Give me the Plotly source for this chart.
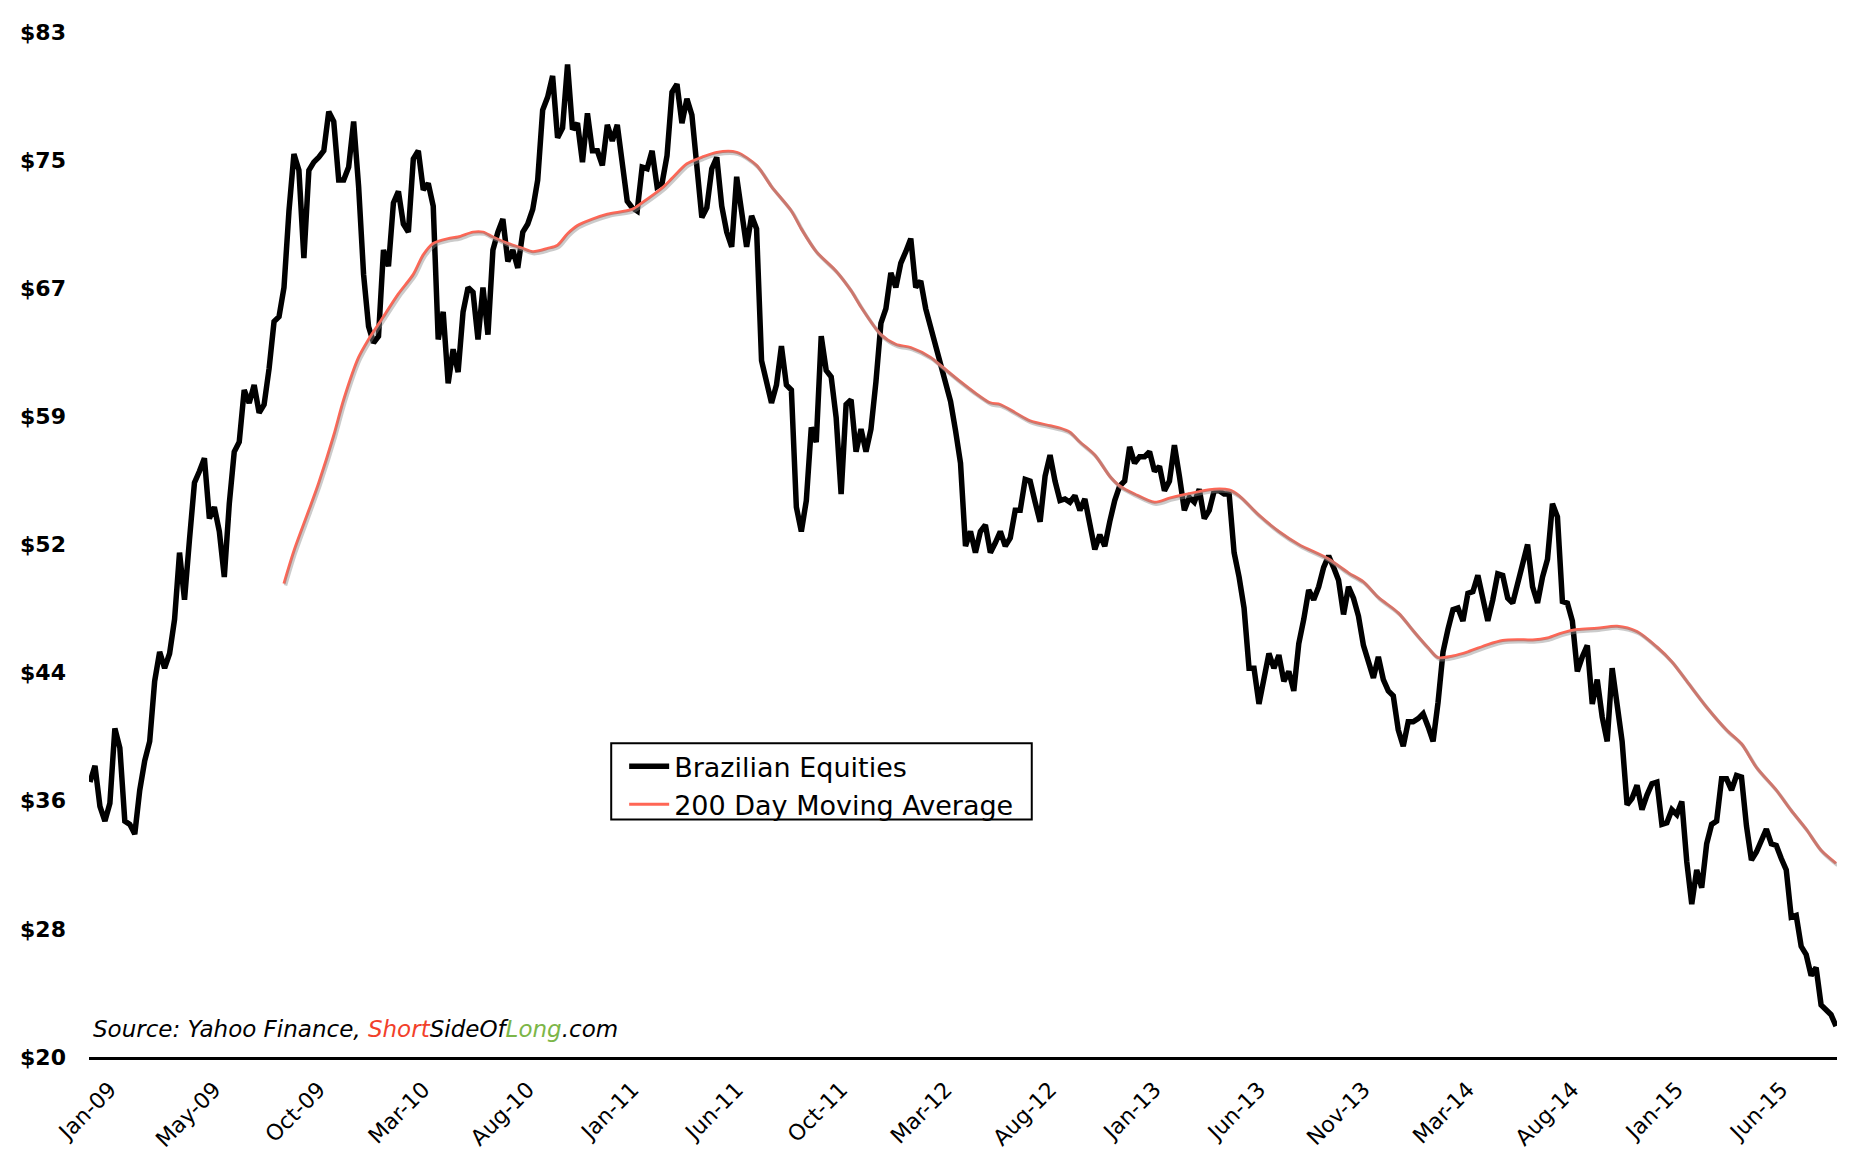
import pandas as pd
import plotly.graph_objects as go

# ---------------- data ----------------
start_date = "2009-01-02"          # first weekly observation
tick_every = 21                    # one x label every 21 weeks

brazil = [
    36.9, 37.9, 35.4, 34.5, 35.6, 40.2, 39.0, 34.5, 34.3, 33.7,
    36.4, 38.2, 39.4, 43.1, 44.9, 43.9, 44.8, 46.9, 51.0, 48.1,
    51.8, 55.3, 56.0, 56.8, 53.1, 53.8, 52.3, 49.5, 54.0, 57.2,
    57.8, 61.0, 60.2, 61.3, 59.6, 60.1, 62.3, 65.2, 65.5, 67.3,
    72.0, 75.5, 74.5, 69.1, 74.5, 75.0, 75.3, 75.7, 78.1, 77.5,
    73.9, 73.9, 74.7, 77.5, 73.5, 68.1, 64.9, 63.9, 64.3, 69.6,
    68.6, 72.5, 73.2, 71.2, 70.7, 75.2, 75.7, 73.3, 73.7, 72.3,
    64.1, 65.8, 61.4, 63.5, 62.1, 65.8, 67.3, 67.0, 64.1, 67.3,
    64.4, 69.6, 70.7, 71.5, 68.9, 69.6, 68.5, 70.7, 71.2, 72.1,
    73.9, 78.2, 79.0, 80.3, 76.5, 77.1, 81.0, 77.0, 77.4, 75.0,
    78.0, 75.7, 75.7, 74.8, 77.3, 76.3, 77.3, 75.0, 72.6, 72.2,
    72.0, 74.7, 74.6, 75.7, 73.5, 73.7, 75.4, 79.3, 79.8, 77.4,
    78.9, 77.9, 74.3, 71.6, 72.2, 74.6, 75.3, 72.3, 70.7, 69.8,
    74.1, 72.0, 69.8, 71.7, 70.9, 62.8, 61.3, 60.2, 61.3, 63.7,
    61.3, 61.0, 53.8, 52.3, 54.2, 58.7, 57.8, 64.3, 62.2, 61.8,
    59.3, 54.6, 60.1, 60.4, 57.2, 58.6, 57.2, 58.6, 61.5, 65.1,
    66.0, 68.2, 67.3, 68.8, 69.5, 70.3, 67.3, 67.7, 66.0, 64.9,
    63.6, 62.6, 61.5, 60.3, 58.5, 56.5, 51.4, 52.3, 51.0, 52.3,
    52.7, 51.0, 51.6, 52.3, 51.4, 51.9, 53.6, 53.6, 55.5, 55.4,
    54.1, 52.9, 55.7, 57.0, 55.4, 54.2, 54.3, 54.1, 54.5, 53.6,
    54.3, 52.6, 51.2, 52.1, 51.4, 52.9, 54.2, 55.1, 55.4, 57.5,
    56.5, 56.9, 56.9, 57.2, 56.0, 56.3, 54.8, 55.4, 57.6, 55.7,
    53.6, 54.4, 54.1, 54.9, 53.1, 53.6, 54.8, 54.8, 54.6, 54.6,
    51.0, 49.5, 47.6, 43.9, 43.9, 41.7, 43.4, 44.8, 43.9, 44.7,
    43.1, 43.7, 42.5, 45.4, 46.9, 48.7, 48.1, 48.9, 50.1, 50.8,
    50.1, 49.3, 47.2, 48.9, 48.2, 47.1, 45.3, 44.4, 43.3, 44.6,
    43.2, 42.5, 42.2, 40.1, 39.1, 40.6, 40.6, 40.8, 41.1, 40.3,
    39.4, 41.8, 44.9, 46.3, 47.5, 47.6, 46.8, 48.5, 48.6, 49.6,
    48.0, 46.8, 48.1, 49.7, 49.6, 48.2, 47.9, 49.1, 50.4, 51.5,
    48.9, 47.9, 49.5, 50.6, 54.0, 53.2, 48.0, 47.9, 46.8, 43.7,
    44.6, 45.3, 41.7, 43.2, 40.9, 39.4, 43.9, 41.6, 39.4, 35.5,
    35.9, 36.7, 35.2, 36.1, 36.8, 36.9, 34.3, 34.4, 35.2, 34.9,
    35.7, 32.0, 29.4, 31.5, 30.4, 33.1, 34.3, 34.5, 37.1, 37.1,
    36.4, 37.3, 37.2, 34.2, 32.1, 32.6, 33.3, 34.0, 33.1, 33.0,
    32.2, 31.5, 28.6, 28.7, 26.8, 26.3, 25.0, 25.5, 23.2, 22.9,
    22.6, 21.9,
]

# 200 day moving average, read at these week numbers
ma_week = [39, 41, 44, 46, 49, 51, 54, 56, 59, 62, 65, 67, 69, 72, 74, 77, 79, 81,
           84, 87, 89, 92, 94, 96, 98, 101, 104, 109, 111, 115, 117, 120, 123, 126,
           130, 134, 137, 141, 143, 146, 150, 153, 155, 159, 162, 165, 169, 171, 175,
           178, 181, 183, 186, 189, 193, 195, 197, 199, 202, 205, 207, 210, 214, 217,
           219, 223, 226, 229, 231, 235, 239, 243, 249, 253, 256, 259, 263, 266, 269,
           271, 274, 277, 281, 284, 287, 290, 293, 296, 299, 303, 307, 311, 315, 318,
           321, 325, 329, 332, 335, 339, 342, 345, 348, 351]
ma_value = [49.1, 51.1, 53.6, 55.3, 58.2, 60.4, 63.0, 64.1, 65.5, 66.9, 68.1, 69.3,
            70.0, 70.3, 70.4, 70.7, 70.7, 70.4, 70.0, 69.7, 69.5, 69.7, 69.9, 70.6,
            71.1, 71.5, 71.8, 72.1, 72.5, 73.4, 74.0, 74.9, 75.3, 75.6, 75.6, 74.8,
            73.5, 72.0, 70.9, 69.5, 68.3, 67.1, 66.1, 64.4, 63.8, 63.6, 63.0, 62.5,
            61.5, 60.8, 60.2, 60.1, 59.6, 59.1, 58.8, 58.65, 58.4, 57.8, 57.0, 55.7,
            55.1, 54.6, 54.1, 54.35, 54.5, 54.75, 54.9, 54.85, 54.5, 53.3, 52.3, 51.5,
            50.6, 49.75, 49.2, 48.25, 47.3, 46.2, 45.15, 44.55, 44.65, 44.9, 45.35,
            45.6, 45.65, 45.63, 45.75, 46.07, 46.27, 46.35, 46.48, 46.15, 45.2, 44.3,
            43.1, 41.5, 40.1, 39.25, 37.8, 36.4, 35.15, 34.0, 32.7, 31.9]

y_min, y_max = 20, 83
y_tick_labels = ["$20", "$28", "$36", "$44", "$52", "$59", "$67", "$75", "$83"]

series_names = ["Brazilian Equities", "200 Day Moving Average"]
source_text = ("Source: Yahoo Finance, <span style='color:#F2402A'>Short</span>"
               "SideOf<span style='color:#7CB648'>Long</span>.com")

# ---------------- derived axes ----------------
dates = pd.date_range(start_date, periods=len(brazil), freq="7D")
ma_dates = [dates[w] for w in ma_week]
tick_dates = list(dates[::tick_every])[:17]
tick_text = [d.strftime("%b-%y") for d in tick_dates]
n_ticks = len(y_tick_labels)
y_tickvals = [y_min + k * (y_max - y_min) / (n_ticks - 1) for k in range(n_ticks)]

pad = pd.Timedelta(days=1.4)
x_range = [dates[0] - pad, dates[-1] + pad]

# page body has an 8px margin, so the figure is drawn 8px in from the corner
W, H = 1856, 1156
L, R, T, B = 75, 27, 22, 102
plot_w = W - L - R
plot_h = H - T - B
px_per_dollar = plot_h / (y_max - y_min)
days_per_px = (x_range[1] - x_range[0]) / plot_w


def px_x(x):
    return (x - L) / plot_w


def px_y(y):
    return (H - B - y) / plot_h


FONT = "DejaVu Sans"

fig = go.Figure()

# soft shadow under the moving average (same data, axes nudged by ~2px)
sh_dy = 2.0 / px_per_dollar
sh_dx = days_per_px * 1.5
fig.add_trace(go.Scatter(
    x=ma_dates, y=ma_value, mode="lines", xaxis="x2", yaxis="y2",
    line=dict(color="rgba(140,140,140,0.45)", width=3.5, shape="spline", smoothing=0.8),
    showlegend=False, hoverinfo="skip"))

fig.add_trace(go.Scatter(
    x=dates, y=brazil, mode="lines", name=series_names[0],
    line=dict(color="#000000", width=5.5)))

fig.add_trace(go.Scatter(
    x=ma_dates, y=ma_value, mode="lines", name=series_names[1],
    line=dict(color="#FF6655", width=3, shape="spline", smoothing=0.8)))

fig.update_layout(
    width=W, height=H,
    margin=dict(l=L, r=R, t=T, b=B),
    paper_bgcolor="white", plot_bgcolor="white",
    font=dict(family=FONT, color="black"),
    showlegend=True,
    legend=dict(
        x=px_x(612), y=px_y(737),
        xanchor="left", yanchor="top",
        bgcolor="rgba(0,0,0,0)", borderwidth=0,
        font=dict(family=FONT, size=27, color="black"),
        itemwidth=40, tracegroupgap=0,
    ),
    # frame around the legend
    shapes=[dict(type="rect", xref="paper", yref="paper",
                 x0=px_x(599), x1=px_x(1021), y0=px_y(815), y1=px_y(738),
                 line=dict(color="black", width=2), fillcolor="rgba(0,0,0,0)",
                 layer="above")],
    xaxis=dict(
        type="date", range=x_range,
        tickvals=tick_dates, ticktext=tick_text, tickangle=-45,
        tickfont=dict(family=FONT, size=22, color="black"),
        ticklabelshift=20, ticklabelstandoff=8,
        showgrid=False, zeroline=False, ticks="",
        showline=True, linecolor="black", linewidth=3,
    ),
    yaxis=dict(
        range=[y_min, y_max], tickvals=y_tickvals, ticktext=y_tick_labels,
        tickfont=dict(family=FONT, size=22, color="black", weight="bold"),
        showgrid=False, zeroline=False, showline=False, ticks="",
        ticklabelstandoff=22,
    ),
    xaxis2=dict(type="date", overlaying="x", visible=False,
                range=[x_range[0] - sh_dx, x_range[1] - sh_dx]),
    yaxis2=dict(overlaying="y", visible=False,
                range=[y_min + sh_dy, y_max + sh_dy]),
    annotations=[dict(
        text="<i>" + source_text + "</i>", xref="paper", yref="paper",
        x=px_x(77), y=px_y(1026),
        xanchor="left", yanchor="middle", showarrow=False,
        font=dict(family=FONT, size=23, color="black"),
    )],
)

fig.write_html("out.html")
